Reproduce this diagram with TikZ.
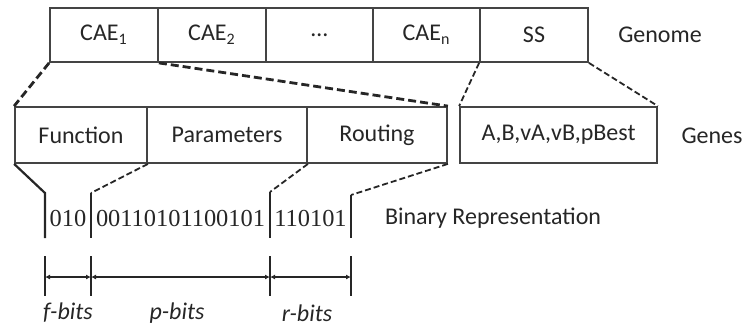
\documentclass[tikz,border=0pt]{standalone}
\usepackage{fontspec}
\setmainfont{Carlito}
\newfontfamily\bitfont{Liberation Serif}
\usetikzlibrary{arrows.meta}
\definecolor{ink}{HTML}{262626}
\definecolor{rule}{HTML}{444444}

\begin{document}
\begin{tikzpicture}[x=.5pt,y=-.5pt,>={Latex[length=2.5pt,width=2.5pt]},
 gbox/.style={draw=rule,line width=.9pt,inner sep=0pt,text=ink,font=\fontsize{12}{14}\selectfont},
 lab/.style={text=ink,inner sep=0pt,font=\fontsize{12}{14}\selectfont},
 bits/.style={text=ink,inner sep=0pt,font=\bitfont\fontsize{12.2}{14}\selectfont},
 zoombig/.style={draw=ink,line width=1.4pt,dash pattern=on 4pt off 2pt},
 zoomsmall/.style={draw=ink,line width=.9pt,dash pattern=on 3pt off 1.5pt}]
\useasboundingbox (0,0) rectangle (747,329);
% genome row
\foreach \x/\n/\lab in {104/c1/CAE\textsubscript{1},212/c2/CAE\textsubscript{2},319.5/cd/\dots,426.5/cn/CAE\textsubscript{n},534/ss/SS}
 \node[gbox,minimum width=54pt,minimum height=27pt] (\n) at (\x,35) {\lab};
\node[lab] (genome) at (660,35) {Genome};
% gene row
\node[gbox,minimum width=66pt,minimum height=28pt] (fun) at (81,135) {Function};
\node[gbox,minimum width=80pt,minimum height=28pt] (par) at (227,135) {Parameters};
\node[gbox,minimum width=70pt,minimum height=28pt] (rout) at (377,135) {Routing};
\node[gbox,minimum width=98.5pt,minimum height=28pt] (genes) at (558.5,135) {A,B,vA,vB,pBest};
\node[lab] (geneslab) at (712,136) {Genes};
\draw[zoombig] (c1.south west)--(fun.north west);
\draw[zoombig] (c1.south east)--(rout.north east);
\draw[zoomsmall] (ss.south west)--(genes.north west);
\draw[zoomsmall] (ss.south east)--(genes.north east);
% binary string
\coordinate (k1) at (45,193); \coordinate (e1) at (45,238);
\coordinate (k2) at (91,193); \coordinate (e2) at (91,238);
\coordinate (k3) at (270,192); \coordinate (e3) at (270,238);
\coordinate (k4) at (351,195); \coordinate (e4) at (351,238);
\draw[draw=ink,line width=1.1pt] (fun.south west)--(k1)--(e1);
\draw[zoomsmall] (fun.south east)--(k2); \draw[draw=ink,line width=1.1pt] (k2)--(e2);
\draw[zoomsmall] (par.south east)--(k3); \draw[draw=ink,line width=1.1pt] (k3)--(e3);
\draw[zoomsmall] (rout.south east)--(k4); \draw[draw=ink,line width=1.1pt] (k4)--(e4);
\node[bits] (fb) at (68,218) {010};
\node[bits] (pb) at (180.5,218) {00110101100101};
\node[bits] (rb) at (310.5,218) {110101};
\node[lab] (binlab) at (493,218) {Binary Representation};
% bit lengths
\foreach \x/\n in {45/t1,91/t2,270/t3,351/t4}{
 \coordinate (\n) at (\x,277);
 \draw[ink,line width=1.2pt] (\x,256)--(\x,296);
}
\draw[ink,line width=1.3pt,<->] (t1)--(t2);
\draw[ink,line width=1.3pt,<->] (t2)--(t3);
\draw[ink,line width=1.3pt,<->] (t3)--(t4);
\node[lab,font=\fontsize{12}{14}\selectfont\itshape] (fl) at (68,313) {f-bits};
\node[lab,font=\fontsize{12}{14}\selectfont\itshape] (pl) at (177,313) {p-bits};
\node[lab,font=\fontsize{12}{14}\selectfont\itshape] (rl) at (307,313) {r-bits};
\end{tikzpicture}
\end{document}
